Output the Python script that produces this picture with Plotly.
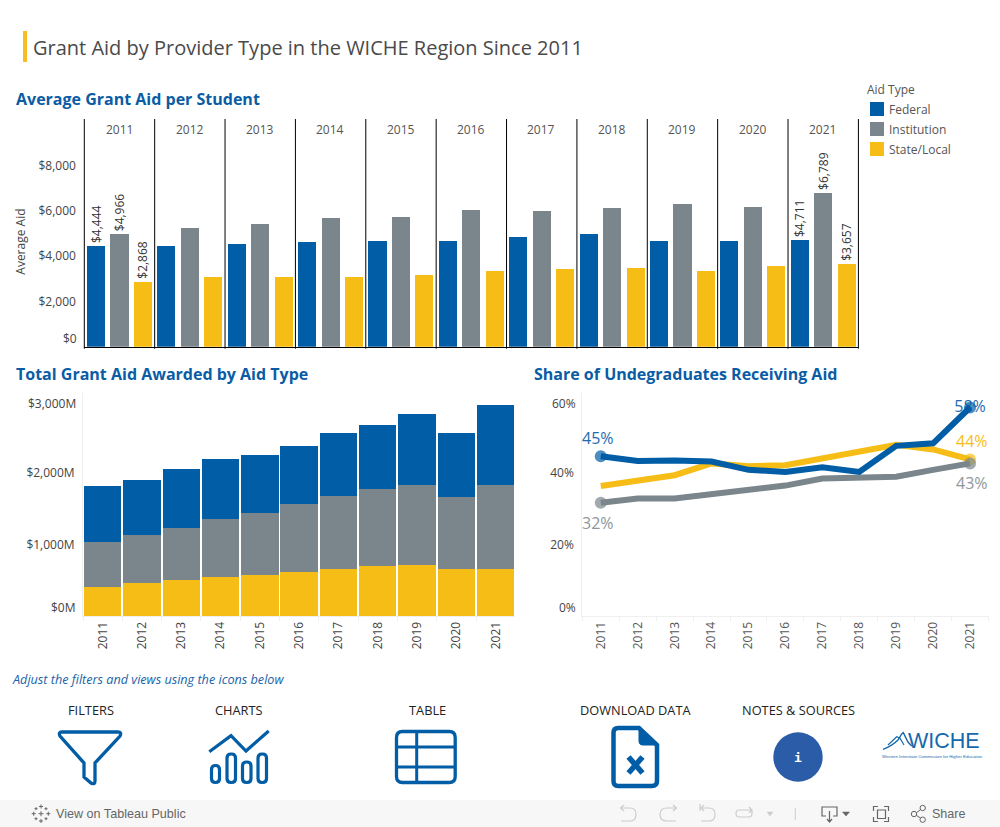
import re
import plotly.graph_objects as go

W, H = 1000, 827
years = [2011, 2012, 2013, 2014, 2015, 2016, 2017, 2018, 2019, 2020, 2021]
aid_types = ["Federal", "Institution", "State/Local"]

avg_federal = [4444, 4450, 4533, 4622, 4666, 4666, 4842, 4975, 4666, 4666, 4711]
avg_institution = [4966, 5240, 5416, 5682, 5726, 6035, 5990, 6123, 6300, 6167, 6789]
avg_state = [2868, 3076, 3076, 3076, 3165, 3341, 3430, 3474, 3341, 3562, 3657]

total_state = [405, 461, 502, 544, 572, 614, 656, 698, 712, 656, 656]
total_institution = [628, 669, 726, 810, 865, 949, 1019, 1074, 1116, 1005, 1172]
total_federal = [781, 768, 824, 837, 810, 810, 879, 894, 991, 893, 1117]

share_federal = [44.6, 43.3, 43.4, 43.1, 40.8, 40.2, 41.5, 40.2, 47.5, 48.2, 58.2]
share_state = [36.3, 37.9, 39.3, 42.6, 41.8, 42.1, 44.1, 45.8, 47.8, 46.5, 43.7]
share_institution = [31.6, 32.8, 32.8, 34.0, 35.4, 36.4, 38.4, 38.7, 38.9, 40.8, 42.6]

BLUE, GREY, YELLOW = "#005DA6", "#7B868C", "#F6BD16"
LINE = "#EFEFEF"
FONT = "Open Sans"
TXT = "#444444"


def fx(x):
    return x / W


def fy(y):
    return 1 - y / H


def path(d):
    return re.sub(r"(-?\d+\.?\d*) (-?\d+\.?\d*)",
                  lambda m: f"{fx(float(m[1])):.5f} {fy(float(m[2])):.5f}", d)


shapes, notes = [], []


def shp(d, color=BLUE, width=3.0, fill=None):
    shapes.append(dict(type="path", xref="paper", yref="paper", path=path(d),
                       line=dict(color=color, width=width),
                       fillcolor=fill if fill else "rgba(0,0,0,0)"))


def rrect(x0, y0, x1, y1, r):
    return (f"M {x0 + r} {y0} L {x1 - r} {y0} Q {x1} {y0} {x1} {y0 + r} L {x1} {y1 - r} "
            f"Q {x1} {y1} {x1 - r} {y1} L {x0 + r} {y1} Q {x0} {y1} {x0} {y1 - r} "
            f"L {x0} {y0 + r} Q {x0} {y0} {x0 + r} {y0} Z")


def note(text, x, y, size=12, color=TXT, anchor="left", family=FONT, angle=0):
    pad = {"left": -2, "right": 2, "center": 0}[anchor] if angle == 0 else 0
    notes.append(dict(text=text, x=fx(x + pad), y=fy(y), xref="paper", yref="paper",
                      showarrow=False, xanchor=anchor, yanchor="middle", textangle=angle,
                      font=dict(family=family, size=size, color=color)))


fig = go.Figure()
layout_axes = {}

# ---------- top: small multiples ----------
TOP_L, TOP_R = 84.3, 858.4
TOP_T, TOP_B = 119.0, 346.7
panel = (TOP_R - TOP_L) / len(years)
for i, yr in enumerate(years):
    name = "" if i == 0 else str(i + 1)
    x0, x1 = TOP_L + i * panel, TOP_L + (i + 1) * panel
    show = yr in (2011, 2021)
    vals = [avg_federal[i], avg_institution[i], avg_state[i]]
    fig.add_trace(go.Bar(
        x=aid_types, y=vals, width=0.77, xaxis=f"x{name}", yaxis="y",
        marker=dict(color=[BLUE, GREY, YELLOW], line=dict(width=0)),
        text=[f"${v:,}" for v in vals] if show else None,
        textposition="outside" if show else "none", textangle=-90, constraintext="none",
        cliponaxis=False, textfont=dict(family=FONT, size=12, color="#333333"),
        showlegend=False))
    layout_axes[f"xaxis{name}"] = dict(
        type="category", domain=[fx(x0), fx(x1)], anchor="y", range=[-0.5, 2.5],
        categoryorder="array", categoryarray=aid_types, showticklabels=False, ticks="",
        showgrid=False, zeroline=False, showline=True, linecolor="#000000", linewidth=1,
        layer="below traces")
    note(str(yr), (x0 + x1) / 2 - 0.3, 129.7, 12, "#555555", "center")
    shapes.append(dict(type="line", xref="paper", yref="paper", x0=fx(x0), x1=fx(x0),
                       y0=fy(TOP_T), y1=fy(TOP_B + 2), line=dict(color="#000000", width=1)))
shapes.append(dict(type="line", xref="paper", yref="paper", x0=fx(TOP_R), x1=fx(TOP_R),
                   y0=fy(TOP_T), y1=fy(TOP_B + 2), line=dict(color="#000000", width=1)))
layout_axes["yaxis"] = dict(
    domain=[fy(TOP_B), fy(TOP_T)], range=[0, (TOP_B - TOP_T) / 22.65 * 1000], anchor="x",
    tickvals=[0, 2000, 4000, 6000, 8000], ticktext=["", "$2,000", "$4,000", "$6,000", "$8,000"],
    tickfont=dict(family=FONT, size=12, color=TXT), ticks="outside", ticklen=5, tickcolor="#FFFFFF",
    showgrid=False, zeroline=False, showline=False, layer="below traces")
note("$0", 76.5, 338.3, 12, TXT, "right")
note("Average Aid", 21, 241.7, 12, TXT, "center", angle=-90)

# ---------- bottom left: stacked totals ----------
BOT_T, BOT_B = 393.3, 616.0
SL, SR = 83.0, 515.3
for vals, col, nm in [(total_state, YELLOW, "State/Local"),
                      (total_institution, GREY, "Institution"),
                      (total_federal, BLUE, "Federal")]:
    fig.add_trace(go.Bar(x=[str(y) for y in years], y=vals, xaxis="x12", yaxis="y2", name=nm,
                         marker=dict(color=col, line=dict(width=0)), width=0.95, showlegend=False))
tick_style = dict(family=FONT, size=12, color=TXT)
layout_axes["xaxis12"] = dict(
    type="category", domain=[fx(SL), fx(SR)], anchor="y2", tickangle=-90, tickfont=tick_style,
    ticks="outside", tickson="boundaries", ticklen=4, tickcolor=LINE, showgrid=False,
    zeroline=False, showline=True, linecolor=LINE, linewidth=1, layer="below traces")
layout_axes["yaxis2"] = dict(
    domain=[fy(BOT_B), fy(BOT_T)], range=[0, (BOT_B - BOT_T) / 71.65 * 1000], anchor="x12",
    tickvals=[0, 1000, 2000, 3000], ticktext=["", "$1,000M", "$2,000M", ""],
    tickfont=tick_style, ticks="outside", ticklen=5, tickcolor="#FFFFFF", showgrid=False,
    zeroline=False, showline=True, linecolor=LINE, linewidth=1, layer="below traces")
note("$0M", 75.7, 607.7, 12, TXT, "right")
note("$3,000M", 75.7, 403.7, 12, TXT, "right")

# ---------- bottom right: share lines ----------
LL, LR = 582.3, 988.5
labels_x = [str(y) for y in years]
ends = [12] + [0] * 9 + [12]
fig.add_trace(go.Scatter(x=labels_x, y=share_state, xaxis="x13", yaxis="y3", name="State/Local",
                         mode="lines+markers", line=dict(color=YELLOW, width=6),
                         marker=dict(size=[0] * 10 + [12], color=YELLOW, line=dict(width=0)),
                         cliponaxis=False, showlegend=False))
fig.add_trace(go.Scatter(x=[labels_x[-1]], y=[share_federal[-1]], xaxis="x13", yaxis="y3", mode="text",
                         text=[f"{share_federal[-1]:.0f}%"], textposition="middle center",
                         cliponaxis=False, showlegend=False,
                         textfont=dict(family=FONT, size=16, color="#1E6BB0")))
for vals, col, nm in [(share_institution, GREY, "Institution"),
                      (share_federal, BLUE, "Federal")]:
    fig.add_trace(go.Scatter(x=labels_x, y=vals, xaxis="x13", yaxis="y3", name=nm, mode="lines+markers",
                             line=dict(color=col, width=6),
                             marker=dict(size=ends, color=col, line=dict(width=0)),
                             cliponaxis=False, showlegend=False))
layout_axes["xaxis13"] = dict(
    type="category", domain=[fx(LL), fx(LR)], anchor="y3", range=[-0.5, 10.5], tickangle=-90,
    categoryorder="array", categoryarray=labels_x,
    tickfont=dict(family=FONT, size=12, color="#555555"), ticks="outside", tickson="boundaries",
    ticklen=4, tickcolor=LINE, showgrid=False, zeroline=False, showline=True, linecolor=LINE, linewidth=1)
layout_axes["yaxis3"] = dict(
    domain=[fy(BOT_B), fy(BOT_T)], range=[0, (BOT_B - BOT_T) / 71.65 * 20], anchor="x13",
    tickvals=[0, 20, 40, 60], ticktext=["", "20%", "40%", ""], tickfont=tick_style,
    ticks="outside", ticklen=5, tickcolor="#FFFFFF", showgrid=False, zeroline=False,
    showline=True, linecolor=LINE, linewidth=1)
note("0%", 575.5, 607.7, 12, TXT, "right")
note("60%", 575.5, 403.7, 12, TXT, "right")


def share_note(idx, val, col, dx, dy):
    # a category axis reads a numeric-looking string as an index, so pass the index
    notes.append(dict(text=f"{val:.0f}%", x=idx, y=val, xref="x13", yref="y3",
                      showarrow=False, xanchor="center", yanchor="middle", xshift=dx, yshift=dy,
                      font=dict(family=FONT, size=16, color=col)))


share_note(0, share_federal[0], "#1E6BB0", -3, 18)
share_note(0, share_institution[0], "#8E979C", -3, -20)
share_note(10, share_state[-1], YELLOW, 2, 18)
share_note(10, share_institution[-1], "#8E979C", 2, -20)

# ---------- headings ----------
shapes.append(dict(type="rect", xref="paper", yref="paper", x0=fx(23), x1=fx(27), y0=fy(31), y1=fy(62),
                   fillcolor="#F9BE25", line=dict(width=0)))
note("Grant Aid by Provider Type in the WICHE Region Since 2011", 33, 48, 20, "#4A4A4A")
note("<b>Average Grant Aid per Student</b>", 16, 99, 16, "#0A5CA5")
note("<b>Total Grant Aid Awarded by Aid Type</b>", 16, 374, 16, "#0A5CA5")
note("<b>Share of Undegraduates Receiving Aid</b>", 534, 374, 16, "#0A5CA5")
note("<i>Adjust the filters and views using the icons below</i>", 12, 679, 12.65, "#1A63A8")

# ---------- legend ----------
note("Aid Type", 867, 90, 12, "#555555")
for nm, col, y in zip(aid_types, [BLUE, GREY, YELLOW], [102, 122, 142]):
    shapes.append(dict(type="rect", xref="paper", yref="paper", x0=fx(870), x1=fx(884), y0=fy(y), y1=fy(y + 14),
                       fillcolor=col, line=dict(width=0)))
    note(nm, 889, y + 7.5, 12, "#555555")

# ---------- icon row ----------
for t, x in [("FILTERS", 90.7), ("CHARTS", 239), ("TABLE", 427),
             ("DOWNLOAD DATA", 635), ("NOTES &amp; SOURCES", 798)]:
    note(t, x, 709.8, 12.8, "#222222", "center")
shp("M 62 732 L 118 732 Q 122 732 120 736 L 95 763 L 95 781 Q 95 785 91 783 L 84 777 L 84 763 L 60 736 Q 58 732 62 732 Z", width=3.3)
shp("M 209.3 751.7 L 231 735.7 L 246 751 L 268.7 731", width=3.2)
for a, b, top in [(211.5, 219.5, 765.5), (227, 235.5, 754), (242.5, 251, 762), (258, 266.5, 754)]:
    shp(rrect(a, top, b, 782.5, 4), width=3.2)
shp(rrect(396.5, 731.5, 455.2, 782.5, 6), width=3.3)
shp("M 396.5 747 L 455.2 747", width=3)
shp("M 396.5 767 L 455.2 767", width=3)
shp("M 416.7 731.5 L 416.7 782.5", width=3)
shp("M 618 728 L 639 728 L 657 745 L 657 781 Q 657 786 652 786 L 618 786 Q 613.5 786 613.5 781 "
    "L 613.5 733 Q 613.5 728 618 728 Z", width=4.5)
shp("M 639 728 L 639 741 Q 639 745 643 745 L 657 745 L 639 728 Z", fill=BLUE, width=1)
shp("M 628.5 757 L 642.5 773", width=5.5)
shp("M 642.5 757 L 628.5 773", width=5.5)
shapes.append(dict(type="circle", xref="paper", yref="paper", x0=fx(773.3), x1=fx(822.7), y0=fy(732.3), y1=fy(781.7),
                   fillcolor="#2A5CA8", line=dict(width=0)))
note("<b>i</b>", 798, 757, 13, "#FFFFFF", "center", "DejaVu Sans Mono")

# ---------- logo ----------
note("WICHE", 908, 740.5, 21.5, "#1668AD", "left", "Liberation Sans")
note("Western Interstate Commission for Higher Education", 932, 756, 4.3, "#1668AD", "center", "Liberation Sans")
shp("M 883 749.3 Q 892 746 898 740 L 901.7 734 L 903.3 732.7 L 908 742 L 911.7 746", color="#1668AD", width=1.4)
shp("M 888 745 L 896.7 736.7 L 900 738.3 L 904 745", color="#1668AD", width=1.2)

# ---------- toolbar ----------
shapes.append(dict(type="rect", xref="paper", yref="paper", x0=0, x1=1, y0=0, y1=fy(800),
                   fillcolor="#F7F7F7", line=dict(width=0), layer="below"))
LT, DK = "#CCCCCC", "#666666"
note("View on Tableau Public", 55.5, 813.7, 12.6, DK, "left", "Liberation Sans")
note("Share", 932, 814, 12.5, DK, "left", "Liberation Sans")
for cx, cy, r in [(41, 813.7, 2.5), (41, 806.5, 2), (41, 821, 2), (33.7, 813.7, 2), (48.3, 813.7, 2),
                  (36, 808.7, 1.5), (46, 808.7, 1.5), (36, 818.7, 1.5), (46, 818.7, 1.5)]:
    shp(f"M {cx - r} {cy} L {cx + r} {cy} M {cx} {cy - r} L {cx} {cy + r}", color=DK, width=1)
shp("M 621 808 L 630 808 Q 636 808 636 814.5 Q 636 821 630 821 L 621 821 M 624 805 L 620.5 808 L 624 811", color=LT, width=1.2)
shp("M 676 808 L 667 808 Q 660 808 660 814.5 Q 660 821 667 821 L 676 821 M 673 805 L 676.5 808 L 673 811", color=LT, width=1.2)
shp("M 701 808 L 709 808 Q 715 808 715 814.5 Q 715 821 709 821 L 701 821 M 704 805 L 701 808 L 704 811 M 700 804 L 700 811", color=LT, width=1.2)
shp("M 752 810 L 739 810 Q 736 810 736 813.5 Q 736 817 739 817 L 749 817 Q 752 817 752 813.5 L 752 810 M 749 807 L 752 810 L 749 813", color=LT, width=1.2)
shp("M 767 812 L 773 812 L 770 816 Z", color=LT, width=0.5, fill=LT)
shp("M 795.3 808 L 795.3 820", color=LT, width=1)
shp("M 826 816 L 822 816 L 822 807 L 837 807 L 837 816 L 833 816 M 829.5 811 L 829.5 821 M 827 819 L 829.5 822 L 832 819", color=DK, width=1.2)
shp("M 842.5 812 L 849.5 812 L 846 816 Z", color=DK, width=0.5, fill=DK)
shp("M 873.5 811 L 873.5 806.5 L 878 806.5 M 884 806.5 L 888.5 806.5 L 888.5 811 M 888.5 817 L 888.5 821.5 L 884 821.5 "
    "M 878 821.5 L 873.5 821.5 L 873.5 817", color=DK, width=1.2)
shp("M 877.5 810 L 885.5 810 L 885.5 818.5 L 877.5 818.5 Z", color=DK, width=1.2)
shp("M 916.5 812.7 L 920.5 809.7 M 916.5 815.5 L 920.5 818", color=DK, width=1)
for cx, cy, r in [(914, 814, 2.7), (922.7, 808, 2.7), (922.7, 819.7, 2.7)]:
    shapes.append(dict(type="circle", xref="paper", yref="paper", x0=fx(cx - r), x1=fx(cx + r), y0=fy(cy - r),
                       y1=fy(cy + r), line=dict(color=DK, width=1)))

fig.update_layout(
    width=W, height=H, margin=dict(l=0, r=0, t=0, b=0), paper_bgcolor="#FFFFFF", plot_bgcolor="#FFFFFF",
    barmode="stack", showlegend=False, shapes=shapes, annotations=notes,
    font=dict(family=FONT, size=12, color=TXT), hovermode=False, **layout_axes)

fig.write_html("out.html", config={"displayModeBar": False},
               post_script="document.body.style.margin='0';document.documentElement.style.overflow='hidden';")
